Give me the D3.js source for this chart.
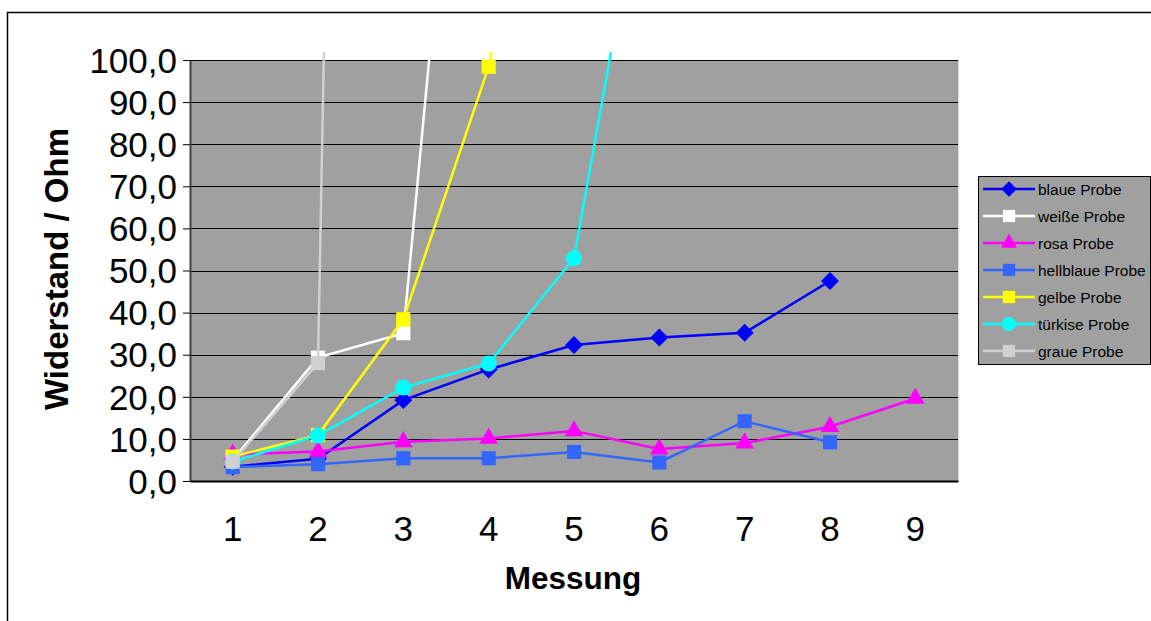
<!DOCTYPE html>
<html>
<head>
<meta charset="utf-8">
<script src="https://cdn.jsdelivr.net/npm/d3@7"></script>
<style>
  html, body { margin: 0; padding: 0; background: #fff; }
  svg { display: block; font-family: Arial, "Liberation Sans", sans-serif; }
</style>
</head>
<body>
<svg id="chart" width="1151" height="621"></svg>
<script>
// ---- data ----
const categories = [1, 2, 3, 4, 5, 6, 7, 8, 9];
const yTicks = [0, 10, 20, 30, 40, 50, 60, 70, 80, 90, 100];
const seriesNames = ["blaue Probe", "weiße Probe", "rosa Probe", "hellblaue Probe", "gelbe Probe", "türkise Probe", "graue Probe"];
const blaue     = [3.4, 5.3, 19.2, 26.5, 32.3, 34.1, 35.2, 47.5, null];
const weisse    = [5.0, 29.3, 35.1, 250, null, null, null, null, null];
const rosa      = [6.3, 7.0, 9.3, 10.1, 11.9, 7.6, 9.0, 12.9, 19.6];
const hellblaue = [3.3, 4.0, 5.4, 5.4, 6.9, 4.4, 14.2, 9.2, null];
const gelbe     = [5.8, 10.9, 38.4, 98.4, 200, null, null, null, null];
const tuerkise  = [4.6, 10.8, 22.2, 27.9, 52.9, 166, null, null, null];
const graue     = [4.6, 28.0, 1100, null, null, null, null, null, null];
const seriesValues = [blaue, weisse, rosa, hellblaue, gelbe, tuerkise, graue];
const seriesColors = ["#0000FF", "#FFFFFF", "#FF00FF", "#3366FF", "#FFFF00", "#00FFFF", "#D0D0D0"];
const seriesSymbols = ["diamond", "square", "triangle", "square", "square", "circle", "square"];

// ---- layout ----
const svg = d3.select("#chart");
const plot = { left: 190, right: 958, top: 60, bottom: 481 };
const FONT = "Arial, 'Liberation Sans', sans-serif";

// outer border
svg.append("rect").attr("x", 7.5).attr("y", 12.5).attr("width", 1160).attr("height", 620)
  .attr("fill", "#fff").attr("stroke", "#000").attr("stroke-width", 1.5);

const x = d3.scaleBand().domain(categories).range([plot.left, plot.right]);
const cx = d => x(d) + x.bandwidth() / 2;
const y = d3.scaleLinear().domain([0, 100]).range([plot.bottom, plot.top]);

// plot background
svg.append("rect").attr("x", plot.left).attr("y", plot.top)
  .attr("width", plot.right - plot.left).attr("height", plot.bottom - plot.top)
  .attr("fill", "#A0A0A0");
svg.append("line").attr("x1", plot.right + 0.5).attr("x2", plot.right + 0.5)
  .attr("y1", plot.top).attr("y2", plot.bottom).attr("stroke", "#D8D8D8").attr("stroke-width", 1);

// gridlines
svg.append("g").selectAll("line").data(yTicks.filter(t => t > 0)).join("line")
  .attr("x1", plot.left).attr("x2", plot.right)
  .attr("y1", d => Math.round(y(d)) + 0.5).attr("y2", d => Math.round(y(d)) + 0.5)
  .attr("stroke", "#000").attr("stroke-width", 1);

// y axis
const yAxis = d3.axisLeft(y).tickValues(yTicks).tickSize(7).tickSizeOuter(0)
  .tickFormat(d => d.toFixed(1).replace(".", ","));
const gy = svg.append("g").attr("transform", `translate(${plot.left},0)`).call(yAxis);
gy.attr("font-size", null).attr("font-family", null);
gy.select(".domain").attr("stroke", "#404040").attr("stroke-width", 2);
gy.selectAll(".tick line").attr("stroke", "#000");
gy.selectAll(".tick text").style("font-size", "35px").style("font-family", FONT)
  .attr("fill", "#000").attr("x", -13).attr("dy", "0.35em");

// x axis
const xAxis = d3.axisBottom(x).tickSize(0).tickSizeOuter(0);
const gx = svg.append("g").attr("transform", `translate(0,${plot.bottom})`).call(xAxis);
gx.attr("font-size", null).attr("font-family", null);
gx.select(".domain").attr("stroke", "#000").attr("stroke-width", 2);
gx.selectAll(".tick text").style("font-size", "35px").style("font-family", FONT)
  .attr("fill", "#000").attr("y", 35);

// axis titles
svg.append("text").attr("x", 573).attr("y", 589).attr("text-anchor", "middle")
  .style("font-size", "31.5px").attr("font-weight", "bold").text("Messung");
svg.append("text").attr("transform", "translate(68,269) rotate(-90)").attr("text-anchor", "middle")
  .style("font-size", "33px").attr("font-weight", "bold").text("Widerstand / Ohm");

// clip
svg.append("clipPath").attr("id", "clip").append("rect")
  .attr("x", plot.left).attr("y", 52).attr("width", plot.right - plot.left).attr("height", plot.bottom - 52 + 10);

const diamondType = {
  draw(ctx, size) {
    const r = Math.sqrt(size / 2);
    ctx.moveTo(0, -r); ctx.lineTo(r, 0); ctx.lineTo(0, r); ctx.lineTo(-r, 0); ctx.closePath();
  }
};
const symMap = { diamond: diamondType, square: d3.symbolSquare, triangle: d3.symbolTriangle, circle: d3.symbolCircle };
const symSize = { diamond: 160, square: 200, triangle: 150, circle: 200 };

const line = d3.line().defined(d => d.v !== null).x(d => cx(d.c)).y(d => y(d.v));
const gSeries = svg.append("g").attr("clip-path", "url(#clip)");
seriesNames.forEach((name, i) => {
  const pts = categories.map((c, j) => ({ c, v: seriesValues[i][j] }));
  gSeries.append("path").datum(pts).attr("d", line).attr("fill", "none")
    .attr("stroke", seriesColors[i]).attr("stroke-width", 2.5);
  const sym = d3.symbol().type(symMap[seriesSymbols[i]]).size(symSize[seriesSymbols[i]]);
  gSeries.selectAll(null).data(pts.filter(p => p.v !== null && p.v <= 100)).join("path")
    .attr("transform", p => `translate(${cx(p.c)},${y(p.v)})`)
    .attr("d", sym).attr("fill", seriesColors[i]);
});

// legend
const lg = svg.append("g");
lg.append("rect").attr("x", 978.5).attr("y", 176.5).attr("width", 172).attr("height", 188)
  .attr("fill", "#A0A0A0").attr("stroke", "#000").attr("stroke-width", 1);
seriesNames.forEach((name, i) => {
  const yy = 189 + i * 27;
  lg.append("line").attr("x1", 983).attr("x2", 1035).attr("y1", yy).attr("y2", yy)
    .attr("stroke", seriesColors[i]).attr("stroke-width", 2.5);
  const sym = d3.symbol().type(symMap[seriesSymbols[i]]).size(symSize[seriesSymbols[i]] * 0.75);
  lg.append("path").attr("transform", `translate(1009,${yy})`).attr("d", sym).attr("fill", seriesColors[i]);
  lg.append("text").attr("x", 1038).attr("y", yy).attr("dy", "0.36em")
    .style("font-size", "15.5px").attr("fill", "#000").text(name);
});
</script>
</body>
</html>
